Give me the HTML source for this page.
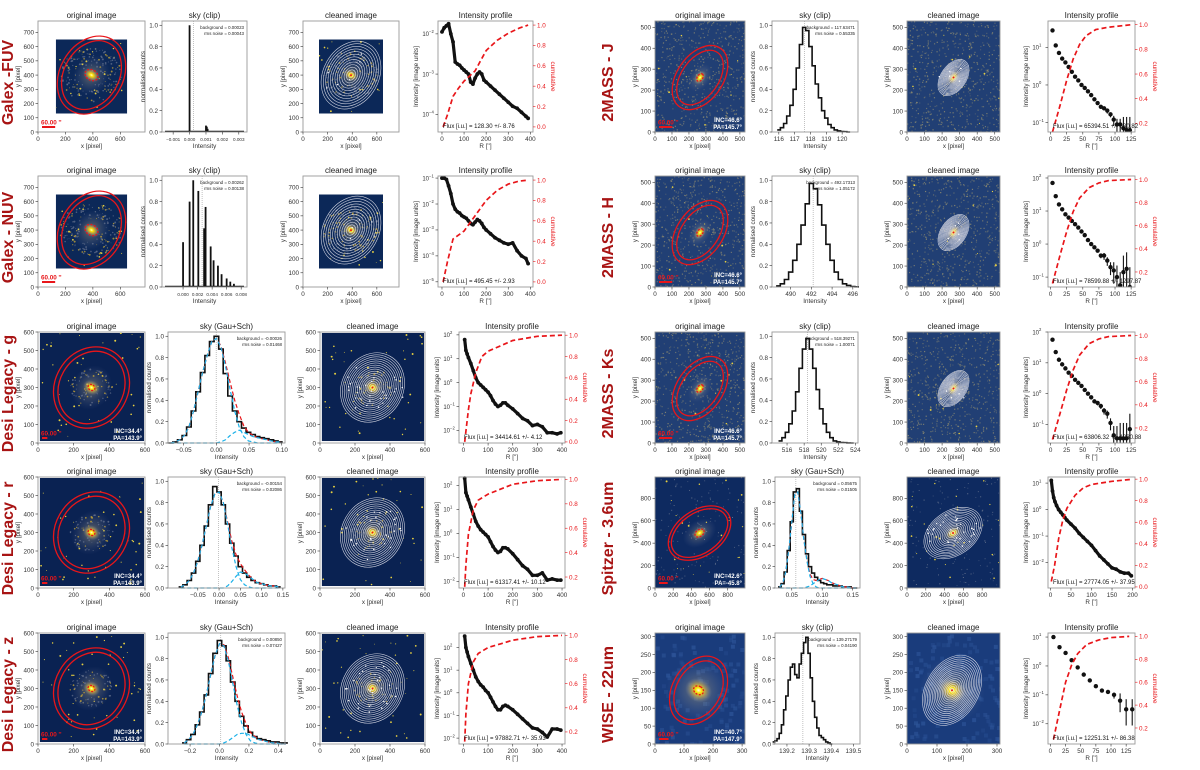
<!DOCTYPE html>
<html><head><meta charset="utf-8">
<style>body{margin:0;background:#fff}svg{display:block;font-family:"Liberation Sans",sans-serif}</style>
</head><body>
<svg id="fig" width="1200" height="770" viewBox="0 0 1200 770">
<defs>
<radialGradient id="gal"><stop offset="0" stop-color="#fffbe0"/><stop offset="0.22" stop-color="#ffe300"/><stop offset="0.55" stop-color="#e0b840" stop-opacity="0.55"/><stop offset="1" stop-color="#8090b0" stop-opacity="0"/></radialGradient>
<radialGradient id="halo"><stop offset="0" stop-color="#c8b070" stop-opacity="0.5"/><stop offset="1" stop-color="#6070a0" stop-opacity="0"/></radialGradient>
</defs>
</svg>
<script>
// ---------- Profile data (log10 intensity vs radius) ----------
const profR_FUV=[0,10,20,30,40,50,60,70,80,90,100,110,120,130,140,150,160,170,180,190,200,220,240,260,280,300,320,340,360,380,390];
const profL_FUV=[-1.95,-1.85,-1.8,-1.75,-2.0,-2.2,-2.7,-2.75,-2.78,-2.85,-2.9,-2.95,-3.0,-3.2,-3.25,-3.1,-3.0,-2.95,-3.0,-3.15,-3.2,-3.3,-3.4,-3.5,-3.6,-3.7,-3.8,-3.85,-3.95,-4.05,-4.1];
const cumR_FUV=[5,25,50,75,100,125,150,175,200,250,300,350,390];
const cumV_FUV=[0.0,0.12,0.3,0.38,0.45,0.5,0.55,0.65,0.75,0.85,0.92,0.97,1.0];
const profR_NUV=profR_FUV;
const profL_NUV=[-1.0,-1.0,-1.05,-1.3,-1.6,-2.0,-2.2,-2.3,-2.35,-2.45,-2.5,-2.55,-2.65,-2.75,-2.8,-2.7,-2.6,-2.65,-2.75,-2.9,-3.0,-3.15,-3.3,-3.4,-3.5,-3.55,-3.5,-3.8,-4.0,-4.1,-4.3];
const cumR_NUV=[5,25,50,75,100,150,200,250,300,350,390];
const cumV_NUV=[0.0,0.2,0.42,0.46,0.5,0.65,0.8,0.9,0.96,0.99,1.0];
const profR_DESI=[5,10,15,20,30,40,50,60,70,80,90,100,110,120,130,140,150,160,170,180,200,220,240,260,280,300,320,340,360,380,395];
const profL_G=[1.8,1.35,1.2,1.05,0.8,0.5,0.2,0.0,-0.1,-0.2,-0.3,-0.4,-0.55,-0.75,-0.9,-1.0,-0.95,-0.85,-0.85,-0.95,-1.1,-1.3,-1.5,-1.6,-1.8,-1.75,-1.85,-2.1,-2.1,-2.15,-2.1];
const cumR_G=[5,10,20,30,50,75,100,150,200,250,300,400];
const cumV_G=[0.0,0.1,0.3,0.45,0.65,0.8,0.85,0.9,0.95,0.97,0.99,1.0];
const profL_R=[2.3,1.7,1.55,1.4,1.1,0.8,0.5,0.3,0.15,0.05,-0.05,-0.15,-0.35,-0.55,-0.7,-0.8,-0.75,-0.6,-0.6,-0.65,-0.85,-1.1,-1.35,-1.5,-1.75,-1.75,-1.65,-1.95,-1.9,-1.95,-1.95];
const cumR_R=[5,10,20,40,60,100,150,200,300,400];
const cumV_R=[0.12,0.3,0.55,0.75,0.83,0.88,0.92,0.96,0.99,1.0];
const profL_Z=[2.5,2.0,1.8,1.6,1.3,1.0,0.7,0.5,0.35,0.25,0.1,0.0,-0.2,-0.4,-0.6,-0.75,-0.75,-0.6,-0.55,-0.6,-0.75,-0.95,-1.15,-1.35,-1.55,-1.6,-1.75,-1.95,-1.6,-1.6,-1.65];
const cumR_Z=[5,10,20,40,60,100,150,200,300,400];
const cumV_Z=[0.12,0.35,0.6,0.78,0.85,0.9,0.93,0.96,0.99,1.0];
const profR_2M=[3,8,13,18,23,28,33,38,43,48,53,58,63,68,73,78,83,88,93,98,103,108,113,118,123];
const profL_J=[1.45,1.05,0.85,0.7,0.6,0.48,0.35,0.22,0.12,0.0,-0.08,-0.17,-0.27,-0.38,-0.48,-0.58,-0.62,-0.68,-0.78,-0.92,-1.05,-1.05,-1.15,-1.2,-1.2];
const profE_J=[0,0,0,0,0,0,0,0,0,0,0,0,0,0,0,0,0,0.05,0.05,0.1,0.15,0.15,0.3,0.35,0.35];
const cumR_J=[3,15,25,35,45,55,70,90,125];
const cumV_J=[0.13,0.35,0.55,0.72,0.84,0.91,0.96,0.98,1.0];
const profL_H=[1.85,1.45,1.2,1.05,0.9,0.8,0.7,0.6,0.5,0.38,0.27,0.12,0.0,-0.1,-0.2,-0.35,-0.35,-0.5,-0.7,-0.8,-1.0,-1.25,-0.85,-0.75,-1.3];
const profE_H=[0,0,0,0,0,0,0,0,0,0,0,0,0,0,0,0.05,0.08,0.1,0.15,0.25,0.35,0.4,0.5,0.5,0.6];
const cumR_H=[3,15,25,35,45,60,75,90,125];
const cumV_H=[0.1,0.35,0.55,0.72,0.84,0.93,0.97,0.99,1.0];
const profL_KS=[1.75,1.35,1.1,0.95,0.82,0.68,0.58,0.45,0.35,0.25,0.12,0.0,-0.12,-0.25,-0.3,-0.4,-0.55,-0.65,-0.95,-1.35,-1.45,-1.45,-1.45,-1.45,-1.15];
const profE_KS=[0,0,0,0,0,0,0,0,0,0,0,0,0,0,0.05,0.06,0.08,0.1,0.15,0.3,0.4,0.5,0.5,0.5,0.5];
const cumR_KS=[3,15,25,35,45,60,75,90,125];
const cumV_KS=[0.1,0.33,0.53,0.7,0.83,0.93,0.97,0.99,1.0];
const profR_SP=[2,5,8,11,15,20,25,30,35,40,50,60,70,80,90,100,110,120,130,140,150,160,170,180,190,197];
const profL_SP=[1.1,0.7,0.45,0.3,0.15,0.0,-0.1,-0.2,-0.3,-0.4,-0.55,-0.7,-0.9,-1.05,-1.2,-1.35,-1.55,-1.75,-1.9,-2.05,-2.2,-2.25,-2.35,-2.4,-2.4,-2.5];
const cumR_SP=[2,10,20,30,40,60,80,100,150,200];
const cumV_SP=[0.05,0.2,0.45,0.62,0.73,0.85,0.92,0.95,0.98,1.0];
const profR_W=[5,15,25,35,45,55,65,75,85,95,105,115,125,135];
const profL_W=[1.0,0.65,0.45,0.2,-0.05,-0.3,-0.5,-0.7,-0.85,-0.9,-1.0,-1.2,-1.5,-1.5];
const profE_W=[0,0,0,0,0,0,0,0,0,0,0.08,0.25,0.35,0.35];
const cumR_W=[5,15,25,35,45,60,80,100,130];
const cumV_W=[0.1,0.35,0.6,0.75,0.85,0.93,0.97,0.99,1.0];

// ---------- Sky histogram data ----------
const skyX_FUV=[0.0,0.001,0.00105,0.0011,0.002];
const skyN_FUV=[1.0,0.06,0.05,0.03,0.01];
const skyX_NUV=[0.0,0.0009,0.0014,0.0021,0.0029,0.0031,0.0038,0.0042,0.0048,0.0053,0.006,0.0065,0.007,0.0078];
const skyN_NUV=[0.42,0.8,1.0,0.9,0.55,0.75,0.38,0.25,0.2,0.12,0.08,0.05,0.03,0.01];
const skyStart_G=-0.07, skyStep_G=0.007;
const skyN_G=[0.0,0.01,0.03,0.07,0.15,0.3,0.48,0.66,0.82,0.95,1.0,0.88,0.65,0.44,0.3,0.2,0.14,0.1,0.08,0.06,0.05,0.04,0.03,0.02,0.01];
const skyMain_G=[0,0.01,0.03,0.07,0.15,0.3,0.48,0.66,0.82,0.95,0.98,0.9,0.72,0.5,0.3,0.15,0.06,0.02,0.01,0,0,0,0,0,0];
const skyBump_G=[0,0,0,0,0,0,0,0,0,0,0,0.01,0.03,0.07,0.1,0.12,0.1,0.08,0.06,0.05,0.04,0.03,0.02,0.01,0.01];
const skyStart_R=-0.09, skyStep_R=0.01;
const skyN_R=[0.01,0.03,0.07,0.14,0.25,0.4,0.58,0.78,0.95,0.9,0.78,0.6,0.42,0.3,0.2,0.14,0.1,0.07,0.05,0.04,0.03,0.02,0.02,0.01];
const skyMain_R=[0.01,0.03,0.07,0.14,0.25,0.4,0.58,0.76,0.88,0.9,0.8,0.6,0.38,0.2,0.08,0.03,0.01,0,0,0,0,0,0,0];
const skyBump_R=[0,0,0,0,0,0,0,0,0,0,0,0.02,0.06,0.11,0.15,0.14,0.11,0.08,0.05,0.04,0.03,0.02,0.02,0.01];
const skyStart_Z=-0.24, skyStep_Z=0.03;
const skyN_Z=[0.01,0.04,0.09,0.18,0.3,0.46,0.66,0.85,0.97,0.92,0.78,0.58,0.4,0.26,0.17,0.11,0.07,0.05,0.04,0.03,0.02,0.02,0.01,0.01];
const skyMain_Z=[0.01,0.04,0.09,0.18,0.3,0.46,0.65,0.83,0.94,0.92,0.78,0.57,0.36,0.2,0.09,0.03,0.01,0,0,0,0,0,0,0];
const skyBump_Z=[0,0,0,0,0,0,0,0,0,0.01,0.03,0.06,0.09,0.1,0.1,0.08,0.06,0.04,0.03,0.02,0.01,0.01,0,0];
const skyStart_SP=0.03, skyStep_SP=0.005;
const skyN_SP=[0.01,0.04,0.15,0.35,0.62,0.9,0.93,0.72,0.5,0.32,0.2,0.14,0.1,0.07,0.05,0.04,0.03,0.03,0.02,0.02,0.02,0.01,0.01,0.01,0,0];
const skyMain_SP=[0.01,0.04,0.15,0.35,0.62,0.88,0.9,0.7,0.45,0.25,0.11,0.04,0.01,0,0,0,0,0,0,0,0,0,0,0,0,0];
const skyBump_SP=[0,0,0,0,0,0,0,0,0,0.01,0.02,0.04,0.06,0.08,0.09,0.08,0.07,0.05,0.04,0.03,0.02,0.01,0.01,0.005,0,0];
const skyStart_J=116.0, skyStep_J=0.2;
const skyN_J=[0.02,0.04,0.08,0.15,0.25,0.4,0.6,0.82,0.98,0.95,0.8,0.62,0.45,0.32,0.2,0.13,0.07,0.04,0.02,0.01,0.005,0.003,0];
const skyStart_H=488.8, skyStep_H=0.4;
const skyN_H=[0.01,0.03,0.07,0.14,0.25,0.4,0.58,0.78,0.97,0.92,0.77,0.58,0.4,0.25,0.14,0.07,0.03,0.015,0.005,0.002];
const skyStart_KS=515.2, skyStep_KS=0.4;
const skyN_KS=[0.02,0.05,0.1,0.18,0.3,0.48,0.7,0.88,0.98,0.88,0.7,0.5,0.32,0.18,0.1,0.05,0.02,0.01,0.005,0.003,0.001,0];
const skyStart_W=139.14, skyStep_W=0.01;
const skyN_W=[0.02,0.03,0.05,0.1,0.18,0.32,0.45,0.6,0.72,0.75,0.65,0.62,0.75,0.85,0.95,1.0,0.85,0.62,0.4,0.25,0.15,0.08,0.06,0.04,0.02,0.01,0];

// ---------- helpers ----------
const NS='http://www.w3.org/2000/svg';
const svg=document.getElementById('fig');
function mk(tag,attrs,parent){const e=document.createElementNS(NS,tag);for(const k in attrs)e.setAttribute(k,attrs[k]);(parent||svg).appendChild(e);return e;}
function txt(x,y,s,attrs,parent){const t=mk('text',Object.assign({x:x,y:y},attrs),parent);t.textContent=s;return t;}
let seed=7;function rnd(){seed=(seed*16807)%2147483647;return seed/2147483647;}
let uid=0;
const TF={'font-size':6.3,fill:'#333'};
function fmtNeg(s){return String(s).replace('-','\u2212');}

function frame(g,b){const r=mk('rect',{x:b.x0,y:b.y0,width:b.x1-b.x0,height:b.y1-b.y0,fill:'none',stroke:'#999','stroke-width':0.9},g);}
function xTicks(g,b,vals,labels,sx,fs){vals.forEach((v,i)=>{const x=sx(v);mk('line',{x1:x,x2:x,y1:b.y1,y2:b.y1+2.5,stroke:'#333','stroke-width':0.6},g);const t=txt(x,b.y1+9,labels[i],Object.assign({'text-anchor':'middle'},TF,fs?{'font-size':fs}:{}),g);});}
function yTicks(g,b,vals,labels,sy,right,color){vals.forEach((v,i)=>{const y=sy(v);const x=right?b.x1:b.x0;mk('line',{x1:x,x2:right?x+2.5:x-2.5,y1:y,y2:y,stroke:color||'#333','stroke-width':0.6},g);const t=txt(right?x+4:x-4,y+2.3,labels[i],Object.assign({},TF,{'text-anchor':right?'start':'end',fill:color||'#333'}),g);});}
function title(g,b,s){const t=txt((b.x0+b.x1)/2,b.y0-3,s,{'text-anchor':'middle','font-size':8,fill:'#222'},g);}
function xlab(g,b,s){const t=txt((b.x0+b.x1)/2,b.y1+16,s,{'text-anchor':'middle','font-size':6.3,fill:'#333'},g);}
function ylab(g,b,s,dx,color,right){const x=right?b.x1+dx:b.x0-dx;const y=(b.y0+b.y1)/2;const t=txt(x,y,s,{'text-anchor':'middle','font-size':6.3,fill:color||'#333',transform:`rotate(${right?90:-90} ${x} ${y})`},g);}

// ---------- image panel ----------
function drawImage(b,s,cleaned,pname){
  const g=mk('g',{});
  
  
  const ext=s.ext,k=(b.x1-b.x0)/ext,ky=(b.y1-b.y0)/ext;
  const sx=v=>b.x0+v*k, sy=v=>b.y1-v*ky;
  mk('rect',{x:b.x0,y:b.y0,width:b.x1-b.x0,height:b.y1-b.y0,fill:'#fff'},g);
  const ia=s.img[0],ib=s.img[1];
  const ix=sx(ia),iy=sy(ib),iw=(ib-ia)*k,ih=(ib-ia)*ky;
  const cid='c'+(uid++);
  const cp=mk('clipPath',{id:cid},g);mk('rect',{x:ix,y:iy,width:iw,height:ih},cp);
  const ig=mk('g',{'clip-path':`url(#${cid})`},g);
  const bgr=mk('rect',{x:ix,y:iy,width:iw,height:ih,fill:s.bg},ig);
  
  
  const cx=sx(s.c[0]),cy=sy(s.c[1]);
  for(let i=0;i<s.grain;i++){mk('rect',{x:ix+rnd()*iw,y:iy+rnd()*ih,width:s.gs,height:s.gs,fill:s.gc,opacity:(0.25+0.5*rnd()).toFixed(2)},ig);}
  for(let i=0;i<s.stars;i++){mk('circle',{cx:ix+rnd()*iw,cy:iy+rnd()*ih,r:0.4+rnd()*0.6,fill:'#e8d040'},ig);}
  if(s.halo){mk('ellipse',{cx:cx,cy:cy,rx:s.halo[0]*k,ry:s.halo[1]*k,fill:'url(#halo)',transform:`rotate(${s.rot} ${cx} ${cy})`},ig);}
  if(s.arms){for(let i=0;i<s.arms;i++){const a=rnd()*6.283,rr=(0.25+0.75*Math.sqrt(rnd()))*s.armR;const px=cx+Math.cos(a)*rr*k,py=cy+Math.sin(a)*rr*k*0.85;mk('circle',{cx:px,cy:py,r:0.4+rnd()*0.6,fill:rnd()<0.35?'#d8b030':'#6a7590',opacity:0.7},ig);}}
  const gl=mk('ellipse',{cx:cx,cy:cy,rx:s.glow[0]*k,ry:s.glow[1]*k,fill:'url(#gal)',transform:`rotate(${s.rot} ${cx} ${cy})`},ig);
  
  
  if(!cleaned){
    s.ell.forEach(e=>{const el=mk('ellipse',{cx:cx,cy:cy,rx:e[0]*k,ry:e[1]*k,fill:'none',stroke:'#e8161a','stroke-width':1.3,transform:`rotate(${s.rot} ${cx} ${cy})`},g);
      
      });
    const ce=mk('ellipse',{cx:cx,cy:cy,rx:s.core[0]*k,ry:s.core[1]*k,fill:'none',stroke:'#e8161a','stroke-width':1.3,'stroke-dasharray':'2 1.4',transform:`rotate(${s.rot} ${cx} ${cy})`},g);
    
    
    const by=b.y1-5;
    mk('line',{x1:b.x0+4,x2:b.x0+4+60*k*s.arc,y1:by,y2:by,stroke:'#e8161a','stroke-width':2},g);
    const sb=txt(b.x0+3,by-2.5,"60.00 ''",{'font-size':6.3,'font-weight':'bold',fill:'#e8161a'},g);
    
    
    if(s.inc){const t1=txt(b.x1-3,b.y1-10,s.inc,{'text-anchor':'end','font-size':6,'font-weight':'bold',fill:'#fff'},g);
      
      
      const t2=txt(b.x1-3,b.y1-3,s.pa,{'text-anchor':'end','font-size':6,'font-weight':'bold',fill:'#fff'},g);
      
      }
  } else {
    for(let i=1;i<=s.nc;i++){mk('ellipse',{cx:cx,cy:cy,rx:s.cont[0]*k*i/s.nc,ry:s.cont[1]*k*i/s.nc,fill:'none',stroke:'#e6e6ee','stroke-width':0.6,opacity:0.9,transform:`rotate(${s.rot} ${cx} ${cy})`},g);}
    for(let i=0;i<s.wd;i++){const a=rnd()*6.283,rr=Math.sqrt(rnd());mk('circle',{cx:cx+Math.cos(a)*rr*s.cont[0]*k*0.9,cy:cy+Math.sin(a)*rr*s.cont[1]*k*0.9,r:0.7,fill:'#fff'},g);}
    mk('circle',{cx:cx,cy:cy,r:1,fill:'#e8161a'},g);
  }
  frame(g,b);
  xTicks(g,b,s.tx,s.tx.map(String),sx);
  yTicks(g,b,s.ty,s.ty.map(String),sy);
  title(g,b,cleaned?'cleaned image':'original image');
  xlab(g,b,'x [pixel]');
  ylab(g,b,'y [pixel]',18);
}

// ---------- sky histogram panel ----------
function drawSky(b,s,pname){
  const g=mk('g',{});
  
  
  const sx=v=>b.x0+(v-s.xmin)/(s.xmax-s.xmin)*(b.x1-b.x0);
  const sy=v=>b.y1-v/1.04*(b.y1-b.y0);
  mk('rect',{x:b.x0,y:b.y0,width:b.x1-b.x0,height:b.y1-b.y0,fill:'#fff'},g);
  const bl=mk('line',{x1:sx(s.bg),x2:sx(s.bg),y1:b.y0,y2:b.y1,stroke:'#999','stroke-width':0.6,'stroke-dasharray':'1 1'},g);
  
  
  if(s.type==='bars'){
    mk('line',{x1:b.x0+3,x2:b.x1-3,y1:sy(0)-0.6,y2:sy(0)-0.6,stroke:'#111','stroke-width':1.2},g);
    s.xs.forEach((v,i)=>{const bar=mk('rect',{x:sx(v)-0.9,y:sy(s.ns[i]),width:1.8,height:sy(0)-sy(s.ns[i]),fill:'#111'},g);
      
      });
  } else {
    const n=s.ns.length;let d='';
    for(let i=0;i<n;i++){const xa=sx(s.start+(i-0.5)*s.step),xb=sx(s.start+(i+0.5)*s.step),y=sy(s.ns[i]);d+=(i?'L':'M')+xa.toFixed(1)+','+y.toFixed(1)+'L'+xb.toFixed(1)+','+y.toFixed(1);}
    const h=mk('path',{d:d,fill:'none',stroke:'#111','stroke-width':1.6},g);
    
    
    if(s.main){
      const line=(arr,col)=>{let dd='';arr.forEach((v,i)=>{dd+=(i?'L':'M')+sx(s.start+i*s.step).toFixed(1)+','+sy(v).toFixed(1);});return mk('path',{d:dd,fill:'none',stroke:col,'stroke-width':1.2,'stroke-dasharray':'4 2.5'},g);};
      const sum=s.main.map((v,i)=>v+s.bump[i]);
      const pr=line(sum,'#e8161a');
      
      
      const pm=line(s.main,'#1ab0e8');
      
      
      const pb=line(s.bump,'#1ab0e8');
      
      
    }
  }
  frame(g,b);
  xTicks(g,b,s.ticks,s.labels,sx,s.fs);
  const yv=[0,0.2,0.4,0.6,0.8,1.0];
  yTicks(g,b,yv,yv.map(v=>v.toFixed(1)),sy);
  title(g,b,s.title);
  xlab(g,b,'Intensity');
  ylab(g,b,'normalised counts',17);
  const t1=txt(b.x1-3,b.y0+8,'background =  '+s.bgt,{'text-anchor':'end','font-size':4.4,fill:'#222'},g);
  
  
  const t2=txt(b.x1-3,b.y0+14,'rms noise =  '+s.rms,{'text-anchor':'end','font-size':4.4,fill:'#222'},g);
  
  
}

// ---------- intensity profile panel ----------
function drawProf(b,s,pname){
  const g=mk('g',{});
  
  
  const sx=v=>b.x0+(v-s.xmin)/(s.xmax-s.xmin)*(b.x1-b.x0);
  const sy=v=>b.y1-(v-s.lo)/(s.hi-s.lo)*(b.y1-b.y0);
  const cy=v=>b.y1-(v-s.clo)/(s.chi-s.clo)*(b.y1-b.y0);
  mk('rect',{x:b.x0,y:b.y0,width:b.x1-b.x0,height:b.y1-b.y0,fill:'#fff'},g);
  const cid='p'+(uid++);
  const cp=mk('clipPath',{id:cid},g);mk('rect',{x:b.x0,y:b.y0-4,width:b.x1-b.x0,height:b.y1-b.y0+4},cp);
  const pg=mk('g',{'clip-path':`url(#${cid})`},g);
  if(s.dense){let d='';s.R.forEach((r,i)=>{d+=(i?'L':'M')+sx(r).toFixed(1)+','+sy(s.L[i]).toFixed(1);});const pl=mk('path',{d:d,fill:'none',stroke:'#111','stroke-width':3.2,'stroke-linejoin':'round'},pg);
    
    }
  s.R.forEach((r,i)=>{const x=sx(r),y=sy(s.L[i]);
    if(s.E&&s.E[i]>0){mk('line',{x1:x,x2:x,y1:sy(s.L[i]+s.E[i]),y2:sy(s.L[i]-s.E[i]*1.6),stroke:'#111','stroke-width':1.1},pg);}
    const c=mk('circle',{cx:x,cy:y,r:s.dense?1.9:2.2,fill:'#111'},pg);
    
    });
  let d='';s.cR.forEach((r,i)=>{d+=(i?'L':'M')+sx(r).toFixed(1)+','+cy(s.cV[i]).toFixed(1);});
  const cl=mk('path',{d:d,fill:'none',stroke:'#e8161a','stroke-width':1.7,'stroke-dasharray':'5 3'},pg);
  
  
  frame(g,b);
  xTicks(g,b,s.xt,s.xt.map(String),sx);
  s.ye.forEach(e=>{const y=sy(e);mk('line',{x1:b.x0,x2:b.x0-2.5,y1:y,y2:y,stroke:'#333','stroke-width':0.6},g);
    const t=txt(b.x0-9,y+2.3,'10',{'text-anchor':'end','font-size':6,fill:'#333'},g);
    
    
    const sup=txt(b.x0-9,y-0.8,fmtNeg(e),{'text-anchor':'start','font-size':4.2,fill:'#333'},g);
    
    });
  yTicks(g,b,s.ct,s.ct.map(v=>v.toFixed(1)),cy,true,'#e8161a');
  title(g,b,'Intensity profile');
  xlab(g,b,"R ['']");
  ylab(g,b,'Intensity [image units]',20);
  ylab(g,b,'cumulative',18,'#e8161a',true);
  const f=txt(b.x0+5,b.y1-4,s.flux,{'font-size':6,fill:'#111'},g);
  
  
}

// ---------- layout & styles ----------
const tops=[21,176,332,477,633],HH=111;
const LA={o:[38,145],s:[162,247],c:[303,399],p:[438,533]};
const LB={o:[38,145],s:[168,285],c:[320,425],p:[459,565]};
const RA={o:[655,745],s:[772,858],c:[907,1000],p:[1048,1135]};
const RB={o:[655,745],s:[775,860],c:[907,1000],p:[1048,1135]};
const t7=[0,100,200,300,400,500,600,700];
const galexImg={ext:780,img:[130,650],tx:[0,200,400,600],ty:t7,bg:'#0c2858',c:[390,400],glow:[45,65],rot:-60,ell:[[300,230],[265,200]],core:[38,50],cont:[290,225],nc:13,grain:0,stars:20,arms:180,armR:230,halo:[150,130],wd:6,arc:1.6};
const desiImg={ext:600,img:[10,595],tx:[0,200,400,600],ty:[0,100,200,300,400,500,600],bg:'#0a2252',c:[300,300],glow:[40,50],rot:-60,ell:[[235,205],[210,180]],core:[16,20],cont:[205,175],nc:17,grain:0,stars:45,arms:80,armR:120,halo:[130,110],wd:30,arc:0.5};
const tmImg={ext:530,img:[0,530],tx:[0,100,200,300,400,500],ty:[0,100,200,300,400,500],bg:'#213f74',c:[265,260],glow:[45,30],rot:-55,ell:[[210,135],[180,110]],core:[25,16],cont:[115,72],nc:16,grain:600,gs:1.2,gc:'#a09870',stars:10,halo:[90,60],wd:5,arc:1.3};
const spImg={ext:990,img:[0,990],tx:[0,200,400,600,800],ty:[0,200,400,600,800],bg:'#0e2a60',c:[490,490],glow:[90,60],rot:-35,ell:[[380,250],[345,220]],core:[55,38],cont:[340,235],nc:16,grain:150,gs:1,gc:'#8890a0',stars:25,halo:[200,140],wd:35,arc:1.6};
const wImg={ext:310,img:[0,310],tx:[0,100,200,300],ty:[0,50,100,150,200,250,300],bg:'#1a3c7c',c:[150,150],glow:[40,48],rot:-60,ell:[[125,90],[108,76]],core:[14,18],cont:[125,88],nc:18,grain:120,gs:4,gc:'#2d5498',stars:0,halo:[110,110],wd:0,arc:0.55};
const cm=['−0.001','0.000','0.001','0.002','0.003'];

const rows=[
 {side:'L',r:0,lay:LA,label:'Galex -FUV',img:galexImg,inc:null,
  sky:{title:'sky (clip)',type:'bars',fs:4.6,xmin:-0.00168,xmax:0.0035,xs:skyX_FUV,ns:skyN_FUV,bg:0.00023,ticks:[-0.001,0,0.001,0.002,0.003],labels:cm,bgt:'0.00023',rms:'0.00043'},
  prof:{xmin:-18,xmax:412,xt:[0,100,200,300,400],lo:-4.44,hi:-1.68,ye:[-2,-3,-4],R:profR_FUV,L:profL_FUV,cR:cumR_FUV,cV:cumV_FUV,clo:-0.05,chi:1.04,ct:[0,0.2,0.4,0.6,0.8,1.0],dense:true,flux:'Flux [i.u.] =    128.30 +/-    8.76'}},
 {side:'L',r:1,lay:LA,label:'Galex - NUV',img:galexImg,inc:null,
  sky:{title:'sky (clip)',type:'bars',fs:4.6,xmin:-0.0029,xmax:0.0088,xs:skyX_NUV,ns:skyN_NUV,bg:0.00262,ticks:[0,0.002,0.004,0.006,0.008],labels:['0.000','0.002','0.004','0.006','0.008'],bgt:'0.00262',rms:'0.00138'},
  prof:{xmin:-18,xmax:412,xt:[0,100,200,300,400],lo:-5.2,hi:-0.92,ye:[-1,-2,-3,-4,-5],R:profR_NUV,L:profL_NUV,cR:cumR_NUV,cV:cumV_NUV,clo:-0.05,chi:1.04,ct:[0,0.2,0.4,0.6,0.8,1.0],dense:true,flux:'Flux [i.u.] =    495.45 +/-    2.93'}},
 {side:'L',r:2,lay:LB,label:'Desi Legacy - g',img:desiImg,inc:'INC=34.4°',pa:'PA=143.9°',
  sky:{title:'sky (Gau+Sch)',type:'gs',xmin:-0.074,xmax:0.105,start:skyStart_G,step:skyStep_G,ns:skyN_G,main:skyMain_G,bump:skyBump_G,bg:-0.0003,ticks:[-0.05,0,0.05,0.1],labels:['−0.05','0.00','0.05','0.10'],bgt:'-0.00026',rms:'0.01468'},
  prof:{xmin:-18,xmax:412,xt:[0,100,200,300,400],lo:-2.53,hi:2.12,ye:[2,1,0,-1,-2],R:profR_DESI,L:profL_G,cR:cumR_G,cV:cumV_G,clo:-0.01,chi:1.03,ct:[0,0.2,0.4,0.6,0.8,1.0],dense:true,flux:'Flux [i.u.] =  34414.61 +/-    4.12'}},
 {side:'L',r:3,lay:LB,label:'Desi Legacy - r',img:desiImg,inc:'INC=34.4°',pa:'PA=143.9°',
  sky:{title:'sky (Gau+Sch)',type:'gs',xmin:-0.12,xmax:0.155,start:skyStart_R,step:skyStep_R,ns:skyN_R,main:skyMain_R,bump:skyBump_R,bg:-0.0015,ticks:[-0.05,0,0.05,0.1,0.15],labels:['−0.05','0.00','0.05','0.10','0.15'],bgt:'-0.00154',rms:'0.02086'},
  prof:{xmin:-18,xmax:412,xt:[0,100,200,300,400],lo:-2.28,hi:2.35,ye:[2,1,0,-1,-2],R:profR_DESI,L:profL_R,cR:cumR_R,cV:cumV_R,clo:0.11,chi:1.02,ct:[0.2,0.4,0.6,0.8,1.0],dense:true,flux:'Flux [i.u.] =  61317.41 +/-   10.12'}},
 {side:'L',r:4,lay:LB,label:'Desi Legacy - z',img:desiImg,inc:'INC=34.4°',pa:'PA=143.9°',
  sky:{title:'sky (Gau+Sch)',type:'gs',xmin:-0.35,xmax:0.445,start:skyStart_Z,step:skyStep_Z,ns:skyN_Z,main:skyMain_Z,bump:skyBump_Z,bg:0.0085,ticks:[-0.2,0,0.2,0.4],labels:['−0.2','0.0','0.2','0.4'],bgt:'0.00850',rms:'0.07427'},
  prof:{xmin:-18,xmax:412,xt:[0,100,200,300,400],lo:-2.26,hi:2.64,ye:[2,1,0,-1,-2],R:profR_DESI,L:profL_Z,cR:cumR_Z,cV:cumV_Z,clo:0.1,chi:1.02,ct:[0.2,0.4,0.6,0.8,1.0],dense:true,flux:'Flux [i.u.] =  97882.71 +/-   35.93'}},
 {side:'R',r:0,lay:RA,label:'2MASS - J',img:tmImg,inc:'INC=46.6°',pa:'PA=145.7°',
  sky:{title:'sky (clip)',type:'step',xmin:115.57,xmax:121.0,start:skyStart_J,step:skyStep_J,ns:skyN_J,bg:117.63,ticks:[116,117,118,119,120],labels:['116','117','118','119','120'],bgt:'117.63471',rms:'0.55335'},
  prof:{xmin:-4,xmax:131,xt:[0,25,50,75,100,125],lo:-1.25,hi:1.7,ye:[1,0,-1],R:profR_2M,L:profL_J,E:profE_J,cR:cumR_J,cV:cumV_J,clo:0.13,chi:1.03,ct:[0.2,0.4,0.6,0.8,1.0],flux:'Flux [i.u.] =  65394.51 +/-  630.82'}},
 {side:'R',r:1,lay:RA,label:'2MASS - H',img:tmImg,inc:'INC=46.6°',pa:'PA=145.7°',
  sky:{title:'sky (clip)',type:'step',xmin:488.2,xmax:496.5,start:skyStart_H,step:skyStep_H,ns:skyN_H,bg:492.17,ticks:[490,492,494,496],labels:['490','492','494','496'],bgt:'492.17313',rms:'1.05172'},
  prof:{xmin:-4,xmax:131,xt:[0,25,50,75,100,125],lo:-1.3,hi:2.06,ye:[2,1,0,-1],R:profR_2M,L:profL_H,E:profE_H,cR:cumR_H,cV:cumV_H,clo:0.07,chi:1.03,ct:[0.2,0.4,0.6,0.8,1.0],flux:'Flux [i.u.] =  78599.88 +/-  1297.87'}},
 {side:'R',r:2,lay:RA,label:'2MASS - Ks',img:tmImg,inc:'INC=46.6°',pa:'PA=145.7°',
  sky:{title:'sky (clip)',type:'step',xmin:514.24,xmax:524.3,start:skyStart_KS,step:skyStep_KS,ns:skyN_KS,bg:518.39,ticks:[516,518,520,522,524],labels:['516','518','520','522','524'],bgt:'518.39271',rms:'1.00071'},
  prof:{xmin:-4,xmax:131,xt:[0,25,50,75,100,125],lo:-1.6,hi:2.0,ye:[2,1,0,-1],R:profR_2M,L:profL_KS,E:profE_KS,cR:cumR_KS,cV:cumV_KS,clo:0.07,chi:1.03,ct:[0.2,0.4,0.6,0.8,1.0],flux:'Flux [i.u.] =  63806.32 +/-  1230.88'}},
 {side:'R',r:3,lay:RB,label:'Spitzer - 3.6um',img:spImg,inc:'INC=42.6°',pa:'PA=-45.8°',
  sky:{title:'sky (Gau+Sch)',type:'gs',xmin:0.0225,xmax:0.162,start:skyStart_SP,step:skyStep_SP,ns:skyN_SP,main:skyMain_SP,bump:skyBump_SP,bg:0.05675,ticks:[0.05,0.1,0.15],labels:['0.05','0.10','0.15'],bgt:'0.05675',rms:'0.01505'},
  prof:{xmin:-6,xmax:206,xt:[0,50,100,150,200],lo:-2.96,hi:1.23,ye:[1,0,-1,-2],R:profR_SP,L:profL_SP,cR:cumR_SP,cV:cumV_SP,clo:-0.01,chi:1.02,ct:[0,0.2,0.4,0.6,0.8,1.0],dense:true,flux:'Flux [i.u.] =  27774.05 +/-   37.95'}},
 {side:'R',r:4,lay:RB,label:'WISE - 22um',img:wImg,inc:'INC=40.7°',pa:'PA=147.9°',
  sky:{title:'sky (clip)',type:'step',xmin:139.146,xmax:139.53,start:skyStart_W,step:skyStep_W,ns:skyN_W,bg:139.272,ticks:[139.2,139.3,139.4,139.5],labels:['139.2','139.3','139.4','139.5'],bgt:'139.27179',rms:'0.04190'},
  prof:{xmin:-4,xmax:139.6,xt:[0,25,50,75,100,125],lo:-2.7,hi:1.14,ye:[1,0,-1,-2],R:profR_W,L:profL_W,E:profE_W,cR:cumR_W,cV:cumV_W,clo:0.06,chi:1.03,ct:[0.2,0.4,0.6,0.8,1.0],flux:'Flux [i.u.] =  12251.31 +/-   86.38'}}
];

rows.forEach((row,idx)=>{
  const y0=tops[row.r],y1=y0+HH,L=row.lay;
  const box=a=>({x0:a[0],x1:a[1],y0:y0,y1:y1});
  const im=Object.assign({},row.img,{inc:row.inc,pa:row.pa});
  drawImage(box(L.o),im,false,'original-image-'+idx);
  drawSky(box(L.s),row.sky,'sky-histogram-'+idx);
  drawImage(box(L.c),im,true,'cleaned-image-'+idx);
  drawProf(box(L.p),row.prof,'intensity-profile-'+idx);
  const lx=row.side==='L'?13:613,ly=y0+HH/2+6;
  const t=txt(lx,ly,row.label,{'text-anchor':'middle','font-size':16,'font-weight':'bold',fill:'#a81414',transform:`rotate(-90 ${lx} ${ly})`});
  
  
});
</script>
</body></html>
